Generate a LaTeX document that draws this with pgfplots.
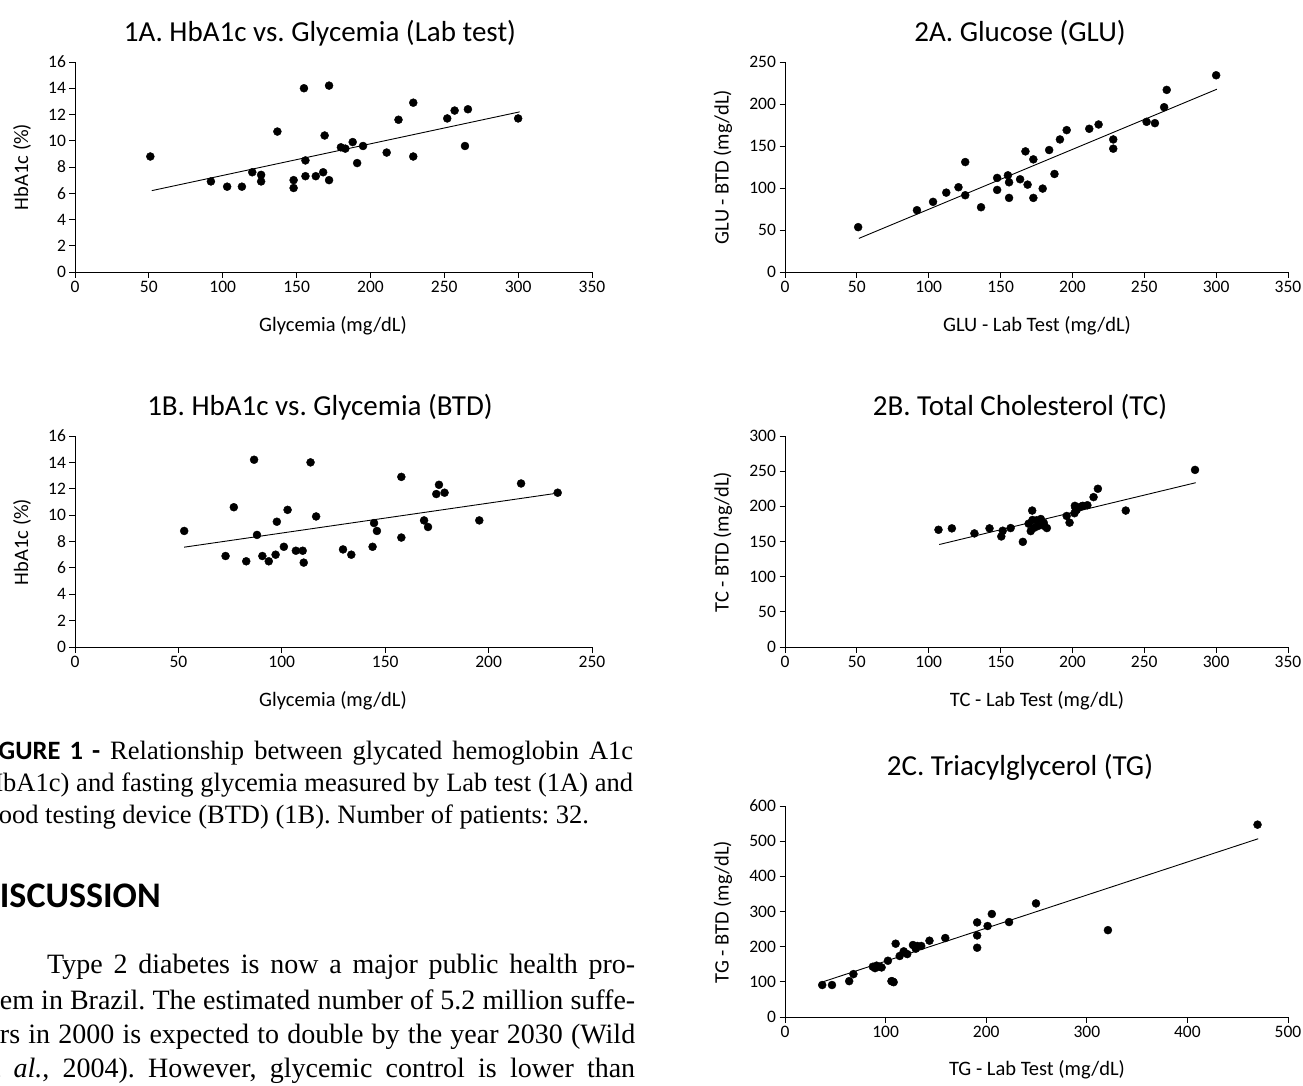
\documentclass[border=0pt]{standalone}
\usepackage{fontspec}
\setmainfont{Carlito}
\newfontfamily\serif{Liberation Serif}
\newfontfamily\headsans{Carlito}
\usepackage{pgfplots}
\pgfplotsset{compat=1.18}
\frenchspacing
\newcommand\tickfont{\fontsize{17.5}{20}\selectfont}
\newcommand\labfont{\fontsize{20.5}{24}\selectfont}
\newcommand\titfont{\fontsize{29}{34}\selectfont}
\newcommand\txtfont{\serif\fontsize{28}{33}\selectfont}
\newcommand\capfont{\serif\fontsize{26.5}{31}\selectfont}
\pgfplotsset{
 sc/.style={
  scale only axis, anchor=south west,
  axis x line=bottom, axis y line=left,
  axis line style={-, black, line width=0.9pt},
  tick align=outside, major tick length=5.5pt,
  every tick/.style={black, line width=0.9pt},
  tick label style={font=\tickfont, black},
  /pgf/number format/assume math mode=true,
  clip=false,
 },
 dots/.style={only marks, mark=*, mark size=4pt, mark options={fill=black, draw=black}},
 fitl/.style={black, line width=0.9pt, no marks},
}
\begin{document}
\begin{tikzpicture}
\path[use as bounding box] (0pt,0pt) rectangle (1303pt,-1086pt);
\clip (0pt,0pt) rectangle (1303pt,-1086pt);
% ---------------- 1A
\begin{axis}[sc, at={(75pt,-272pt)}, width=517pt, height=210pt,
  xmin=0, xmax=350, ymin=0, ymax=16, xtick={0,50,...,350}, ytick={0,2,...,16}]
\addplot[dots] table {
51 8.8
92 6.9
103 6.5
113 6.5
120 7.6
126 7.4
126 6.9
137 10.7
148 7.0
148 6.4
155 14.0
156 8.5
156 7.3
163 7.3
168 7.6
169 10.4
172 14.2
172 7.0
180 9.5
183 9.4
188 9.9
191 8.3
195 9.6
211 9.1
219 11.6
229 12.9
229 8.8
252 11.7
257 12.3
264 9.6
266 12.4
300 11.7
};
\addplot[fitl] coordinates {(52,6.2) (301,12.2)};
\end{axis}
% ---------------- 1B
\begin{axis}[sc, at={(75pt,-647pt)}, width=517pt, height=211pt,
  xmin=0, xmax=250, ymin=0, ymax=16, xtick={0,50,...,250}, ytick={0,2,...,16}]
\addplot[dots] table {
52.8 8.8
72.8 6.9
76.8 10.6
82.8 6.5
86.6 14.2
88.0 8.5
90.6 6.9
93.7 6.5
97.0 7.0
97.6 9.5
101.0 7.6
102.8 10.4
106.8 7.3
110.1 7.3
110.6 6.4
113.9 14.0
116.6 9.9
129.6 7.4
133.6 7.0
143.9 7.6
144.6 9.4
146.0 8.8
157.8 12.9
157.8 8.3
168.8 9.6
170.7 9.1
174.7 11.6
176.0 12.3
178.7 11.7
195.5 9.6
215.7 12.4
233.4 11.7
};
\addplot[fitl] coordinates {(52.8,7.57) (233.4,11.67)};
\end{axis}
% ---------------- 2A
\begin{axis}[sc, at={(785pt,-272pt)}, width=503pt, height=210pt,
  xmin=0, xmax=350, ymin=0, ymax=250, xtick={0,50,...,350}, ytick={0,50,...,250}]
\addplot[dots] table {
50.9 53.4
91.8 73.6
103 83.5
112.2 94.5
120.7 100.9
125.4 130.9
125.4 91.4
136.4 77.1
147.6 112
147.6 97.7
155.1 115.1
155.9 106.8
155.9 88.2
163.6 110.4
167.3 143.6
168.8 104
172.8 134.1
172.8 88.2
179.3 99.3
183.8 145.2
187.5 116.7
191.3 157.8
196 168.9
211.7 170.5
218.2 175.6
228.4 157.8
228.4 146.8
251.6 178.8
257.4 177.2
263.8 196.2
265.6 216.8
300 234.2
};
\addplot[fitl] coordinates {(51.4,40) (300.5,217.6)};
\end{axis}
% ---------------- 2B
\begin{axis}[sc, at={(785pt,-647pt)}, width=503pt, height=211pt,
  xmin=0, xmax=350, ymin=0, ymax=300, xtick={0,50,...,350}, ytick={0,50,...,300}]
\addplot[dots] table {
106.8 166.7
116.1 168.7
131.8 161.5
142.3 168.7
150.5 157.2
151.5 165.3
157 169.1
165.5 149.5
169.5 175.3
171 164.8
172 194
172.2 180.6
173.5 169.6
175 180.1
176 172
178 182
180 176.8
180.5 172
182.2 169.1
196 186.3
198 176.8
201.4 190.2
201.7 200.7
202.2 197.3
203 195
206 199.7
207.2 200.7
210.4 201.6
214.7 213.1
217.7 225
237.1 194
285.3 251.8
};
\addplot[fitl] coordinates {(107.3,145.7) (285.8,233.6)};
\end{axis}
% ---------------- 2C
\begin{axis}[sc, at={(785pt,-1017pt)}, width=503pt, height=211pt,
  xmin=0, xmax=500, ymin=0, ymax=600, xtick={0,100,...,500}, ytick={0,100,...,600}]
\addplot[dots] table {
37 91
46.7 91
63.8 102
68 122
87.3 143
89.5 139
91 146
93.7 143
96 141
102.3 160
105.8 102
107 101
108 99
110 208.5
114 173.5
118 186.7
121.5 179
127.2 204.7
130 194.3
131.5 202
135.4 202
143.6 217
159.3 224.6
191 269
191 232
191 197
201.4 258.8
205.6 293
222.7 270
249.5 323
321 247
469.7 547
};
\addplot[fitl] coordinates {(38.1,100.5) (470.4,507)};
\end{axis}
% ---------------- titles and labels
\node[font=\titfont] at (320pt,-33pt) {1A. HbA1c vs. Glycemia (Lab test)};
\node[font=\titfont] at (320pt,-407pt) {1B. HbA1c vs. Glycemia (BTD)};
\node[font=\titfont] at (1020pt,-33pt) {2A. Glucose (GLU)};
\node[font=\titfont] at (1020pt,-407pt) {2B. Total Cholesterol (TC)};
\node[font=\titfont] at (1020pt,-767pt) {2C. Triacylglycerol (TG)};
\node[font=\labfont] at (333pt,-326pt) {Glycemia (mg/dL)};
\node[font=\labfont] at (333pt,-701pt) {Glycemia (mg/dL)};
\node[font=\labfont] at (1037pt,-326pt) {GLU - Lab Test (mg/dL)};
\node[font=\labfont] at (1037pt,-701pt) {TC - Lab Test (mg/dL)};
\node[font=\labfont] at (1037pt,-1070pt) {TG - Lab Test (mg/dL)};
\node[font=\labfont, rotate=90] at (22pt,-167pt) {HbA1c (\%)};
\node[font=\labfont, rotate=90] at (22pt,-542pt) {HbA1c (\%)};
\node[font=\labfont, rotate=90] at (723pt,-167pt) {GLU - BTD (mg/dL)};
\node[font=\labfont, rotate=90] at (723pt,-542pt) {TC - BTD (mg/dL)};
\node[font=\labfont, rotate=90] at (723pt,-912pt) {TG - BTD (mg/dL)};
% ---------------- caption and text
\node[anchor=base west, inner sep=0pt, font=\capfont] at (-21pt,-759pt)
  {\makebox[654pt][s]{{\headsans\bfseries FIGURE 1 -} Relationship between glycated hemoglobin A1c}};
\node[anchor=base west, inner sep=0pt, font=\capfont] at (-25pt,-791pt)
  {\makebox[658pt][s]{(HbA1c) and fasting glycemia measured by Lab test (1A) and}};
\node[anchor=base west, inner sep=0pt, font=\capfont] at (-22pt,-823pt)
  {blood testing device (BTD) (1B). Number of patients: 32.};
\node[anchor=base west, inner sep=0pt, font={\headsans\bfseries\fontsize{36}{40}\selectfont}] at (-23pt,-907pt)
  {DISCUSSION};
\node[anchor=base west, inner sep=0pt, font=\txtfont] at (47pt,-973pt)
  {\makebox[588pt][s]{Type 2 diabetes is now a major public health pro-}};
\node[anchor=base west, inner sep=0pt, font=\txtfont] at (-22pt,-1009pt)
  {\makebox[657pt][s]{blem in Brazil. The estimated number of 5.2 million suffe-}};
\node[anchor=base west, inner sep=0pt, font=\txtfont] at (-22pt,-1043pt)
  {\makebox[657pt][s]{rers in 2000 is expected to double by the year 2030 (Wild}};
\node[anchor=base west, inner sep=0pt, font=\txtfont] at (-20pt,-1077pt)
  {\makebox[655pt][s]{et \textit{al.}, 2004). However, glycemic control is lower than}};
\end{tikzpicture}
\end{document}
